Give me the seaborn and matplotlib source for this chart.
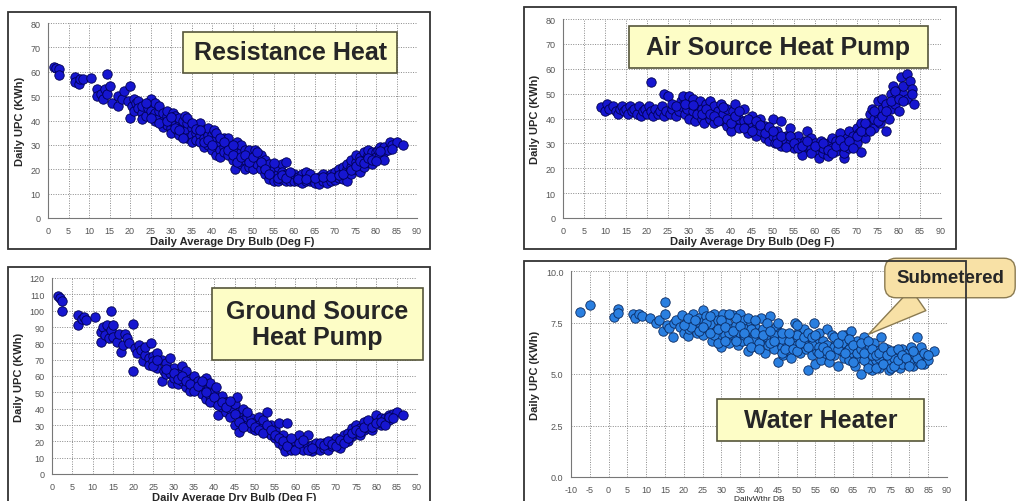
import matplotlib
matplotlib.use("Agg")
import matplotlib.pyplot as plt
import matplotlib.patches as patches
from matplotlib.ticker import MultipleLocator
import seaborn as sns
import pandas as pd

# Данные (оценка по картинке): (температура, кВт*ч)
resist_pts = [
    (1.5, 62), (2, 61.5), (2.7, 61), (2.7, 58.5), (6.5, 58), (6.5, 56), (7.5, 55), (7.8, 57), (8.5, 57),
    (10.5, 57.5), (12, 53), (12, 50), (13, 51), (13.5, 49), (14, 53), (14.5, 59), (14.5, 51), (15, 54),
    (15.5, 47), (17, 50), (17, 46), (18, 49), (18.5, 52), (19.5, 48), (20, 54), (20, 41), (20.5, 46),
    (21, 44), (21, 49), (21.5, 47), (22, 48), (22, 45), (23, 43), (23, 46), (23, 40.5), (24, 42), (24.5, 45),
    (25, 49), (25, 44), (25.5, 42), (26, 47), (26, 43), (26, 40), (27, 41), (27, 44), (27, 46), (28, 40),
    (28, 43), (28, 37.5), (29, 38), (29, 42), (29, 44), (30, 37), (30, 40), (30, 35), (30.5, 43), (31, 39),
    (31, 42), (31.5, 36), (32, 38), (32, 41), (32, 34), (33, 35), (33, 38), (33, 40), (33.5, 42), (34, 36),
    (34, 33), (34, 39), (35, 37), (35, 34), (35, 31), (36, 35), (36, 32), (36, 38), (37, 39), (37, 34),
    (37, 31), (38, 33), (38, 36), (38, 29), (39, 30), (39, 34), (39, 37), (40, 32), (40, 28), (40, 34),
    (40.5, 36), (41, 30), (41, 26), (41, 33), (42, 31), (42, 28), (42, 25), (43, 29), (43, 33), (43, 27),
    (44, 26), (44, 30), (44, 33), (45, 28), (45, 24), (45.5, 20), (46, 31), (46, 25), (46, 28), (47, 27),
    (47, 22), (47, 30), (48, 24), (48, 28), (48, 20), (49, 21), (49, 25), (49, 28), (50, 23), (50, 20),
    (50.5, 28), (51, 22), (51, 25), (52, 20), (52, 26), (53, 21), (53, 18), (53, 24), (54, 19), (54, 16),
    (54, 22), (55, 20), (55, 17), (55, 15), (56, 18), (56, 15), (56, 21), (57, 16), (57, 22), (57, 19),
    (58, 23), (58, 18), (58, 15), (59, 17), (59, 15), (60, 16), (60, 15), (60, 18), (61, 17), (61, 15),
    (62, 16), (62, 18), (62, 14.5), (63, 15), (63, 17), (63, 19), (64, 15), (64, 16), (64, 18), (65, 15),
    (65, 14.5), (66, 15), (66, 17), (66, 14), (67, 16), (67, 15), (67, 18), (68, 17), (68, 16), (68, 14.5),
    (69, 16), (69, 18), (69, 15), (70, 17), (70, 19), (70, 15.5), (71, 18), (71, 20), (71, 16.5), (72, 19),
    (72, 16), (72, 21), (73, 20), (73, 22), (73, 18), (73, 15), (74, 21), (74, 24), (74, 18), (75, 20),
    (75, 23), (75, 26), (76, 22), (76, 25), (76, 19), (77, 24), (77, 27), (77, 21), (78, 23), (78, 26),
    (78, 28), (79, 25), (79, 27), (79, 22), (80, 27), (80, 25), (80.5, 28), (81, 26), (81, 29), (82, 27),
    (82, 29), (82, 24), (83, 28), (83.5, 31), (84, 30), (85, 31), (86.5, 30),
    (24, 47), (25, 41), (27, 39), (29, 40), (30, 41.5), (31, 37), (32, 36), (33, 33), (34, 41), (35, 39),
    (36, 36.5), (37, 36), (38, 31), (39, 32), (40, 30), (41, 35), (42, 33), (43, 31), (44, 28), (45, 26),
    (45, 30), (46, 23), (47, 25), (48, 26), (49, 23), (50, 25), (51, 27), (52, 23), (53, 20), (54, 18),
    (55, 22.5), (56, 16.5), (57, 17.5), (58, 16.5), (59, 19), (61, 16), (63, 16), (65, 16.5), (67, 17),
    (69, 17), (71, 17.5), (72, 18), (74, 19.5), (75, 21.5), (76, 23.5), (77, 22.5), (78, 24.5), (79, 24),
    (80, 23.5), (81, 27.5), (84, 28.5),
]

ashp_pts = [
    (9, 44.5), (10, 43), (10.5, 46), (11, 44), (12, 45), (12.5, 43), (13, 42), (13.5, 44), (14, 45),
    (14.5, 43), (15, 44), (15.5, 42), (16, 45), (16.5, 43), (17, 44), (17.5, 42), (18, 45), (18.5, 41),
    (19, 43), (19.5, 44), (20, 42), (20.5, 45), (21, 54.5), (21, 43), (21.5, 41), (22, 44), (22.5, 42),
    (23, 43), (23.5, 45), (24, 50), (24, 41), (24.5, 43), (25, 49), (25.5, 42), (26, 44), (26, 46), (27, 41),
    (27.5, 43), (28, 47), (28, 45), (28.5, 49), (29, 42), (29.5, 44), (30, 49), (30, 40), (30.5, 46),
    (31, 43), (31, 48), (31.5, 39), (32, 45), (32, 42), (32.5, 47), (33, 40), (33, 44), (33.5, 38), (34, 46),
    (34, 42), (35, 47), (35, 40), (35.5, 44), (36, 38), (36, 45), (37, 41), (37, 43), (37.5, 46), (38, 39),
    (38, 42), (39, 44), (39, 37), (40, 40), (40, 35), (40.5, 43), (41, 46), (41, 38), (42, 36), (42, 40),
    (43, 44), (43, 39), (44, 37), (44, 34), (45, 38), (45, 41), (46, 36), (46, 33), (47, 40), (47, 35),
    (48, 37), (48, 32), (49, 34), (49, 31), (50, 40), (50, 33), (50.5, 30), (51, 35), (51, 32), (52, 39),
    (52, 29), (53, 33), (53, 31), (54, 36), (54, 30), (55, 32), (55, 28), (56, 33), (56, 30), (57, 27),
    (57, 25.5), (57.5, 31), (58, 35), (58, 29), (59, 28), (59, 32), (60, 27), (60, 30), (61, 24), (61, 29),
    (61.5, 31), (62, 26), (62, 28), (63, 25), (63, 30), (64, 28), (64, 32), (65, 27), (65, 31), (66, 29),
    (66, 34), (67, 24), (67, 26), (67.5, 32), (68, 28), (68, 35), (69, 31), (69, 33), (70, 30), (70, 36),
    (70.5, 34), (71, 26.5), (71, 38), (72, 32), (72, 35), (73, 38), (73, 42), (73.5, 44), (74, 36), (74, 40),
    (75, 42), (75, 47), (75.5, 38), (76, 44), (76, 48), (77, 35), (77, 46), (77.5, 40), (78, 50), (78, 44),
    (78.5, 53), (79, 48), (79, 46), (80, 51), (80, 43), (80.5, 56.5), (81, 50), (81, 53), (82, 58), (82, 48),
    (82.5, 55), (83, 52), (83, 50), (83.5, 46),
    (27, 45), (29, 46), (31, 45.5), (33, 42), (34, 44), (35, 42), (36, 41), (37, 39), (38, 44.5), (39, 40),
    (40, 38), (41, 41), (42, 43), (43, 36), (44, 40), (45, 35), (46, 39), (47, 37.5), (48, 34), (49, 36.5),
    (50, 35), (51, 30), (52, 33), (53, 28.5), (54, 33), (55, 30), (56, 28), (57, 29), (58, 31), (59, 26),
    (60, 29), (62, 30), (63, 27.5), (64, 26), (65, 29), (66, 31.5), (67, 29), (68, 31), (69, 28), (70, 33),
    (71, 35), (72, 38), (73, 35), (74, 43), (75, 39), (76, 41), (77, 43), (78, 47), (79, 51), (80, 48),
    (81, 47),
]

gshp_pts = [
    (1.5, 109), (2, 108), (2.5, 106), (2.5, 99.5), (6.5, 91.5), (6.5, 97.5), (7.5, 95), (8, 96), (8.5, 94.5),
    (10.5, 96), (12, 81), (12, 87), (12.5, 90), (13, 85), (13.5, 91), (14, 83), (14.5, 88), (14.5, 100),
    (15, 84), (15, 91), (16, 81), (16.5, 86), (17, 75), (17.5, 79), (18, 86), (18.5, 83), (19, 80), (20, 92),
    (20, 63), (20.5, 77), (21, 74), (21.5, 79), (22, 76), (22.5, 69), (23, 73), (23, 78), (24, 71), (24, 67),
    (24.5, 80.5), (25, 72), (25, 69), (26, 74), (26, 65), (27, 70), (27, 57), (27.5, 63), (28, 68), (28, 61),
    (29, 71), (29, 62), (29.5, 56), (30, 65), (30, 59), (31, 61), (31, 55), (32, 66), (32, 57), (33, 63),
    (33, 53), (34, 58), (34, 51), (35, 60), (35, 55), (36, 52), (36, 57), (37, 49), (37, 54), (38, 59),
    (38, 46), (38.5, 52), (39, 48), (39, 56), (40, 44), (40, 50), (40.5, 53), (41, 36), (41, 46), (42, 41),
    (42, 48), (43, 44), (43, 38), (44, 40), (44, 35), (45, 43), (45, 30), (45.5, 47), (46, 26), (46, 38),
    (47, 33), (47, 40), (48, 30), (48, 35), (49, 34), (49, 28), (50, 32), (50, 27), (51, 35), (51, 30),
    (52, 29), (52, 33), (53, 26), (53, 38), (54, 24), (54, 30), (55, 22), (55, 27), (56, 19), (56, 31),
    (57, 17), (57, 24), (57.5, 14), (58, 20), (58, 31), (59, 18), (59, 15), (60, 17), (60, 20), (61, 16),
    (61, 24), (62, 18), (62, 15), (63, 24), (63, 17), (64, 14), (64, 18), (65, 16), (65, 19), (66, 17),
    (66, 15), (67, 19), (67, 16), (68, 18), (68, 15), (69, 20), (69, 17), (70, 19), (70, 22), (71, 18),
    (71, 16), (72, 22), (72, 24), (73, 20), (73, 25), (74, 23), (74, 28), (75, 25), (75, 30), (76, 24),
    (76, 28), (77, 27), (77, 32), (78, 28), (78, 30), (79, 31), (79, 27), (80, 33), (80, 36), (81, 30),
    (81, 34), (82, 34), (82, 32), (83, 36), (83, 33), (84, 37), (85, 38), (86.5, 36),
    (25, 66), (26, 70), (28, 64), (30, 62), (31, 58), (32, 60), (33, 57), (34, 55), (35, 51), (36, 54),
    (37, 57), (38, 50), (39, 44), (40, 47), (41, 42), (42, 44), (43, 41), (44, 45), (45, 37), (46, 32),
    (47, 29), (48, 38), (49, 31), (50, 29), (51, 27), (52, 25), (53, 30), (54, 27), (55, 24), (56, 22),
    (57, 20), (58, 17), (59, 22), (60, 15), (61, 19), (62, 21), (63, 15), (64, 16), (66, 19), (67, 17.5),
    (68, 20), (69, 18.5), (70, 17), (71, 21), (72, 19), (73, 22), (74, 25), (75, 27), (76, 26), (77, 29),
    (78, 33), (79, 29), (80, 31), (81, 32), (82, 30), (83, 35), (84, 34),
]

water_pts = [
    (-7.5, 8.0), (-5, 8.35), (1.5, 7.75), (2.5, 8.15), (2.5, 7.95), (6.5, 7.9), (7, 7.7), (8, 7.9), (9, 7.8),
    (11, 7.7), (12.5, 7.5), (13.5, 7.6), (14.5, 7.1), (15, 8.5), (15, 7.9), (15.5, 7.4), (16, 7.25), (17, 6.8),
    (17.5, 7.5), (18, 7.6), (19, 7.3), (19.5, 7.85), (20, 7.0), (20.5, 7.5), (21, 6.85), (21.5, 7.2),
    (22, 7.6), (22.5, 7.9), (23, 7.3), (23.5, 7.0), (24, 7.7), (24.5, 7.4), (25, 8.1), (25, 6.9), (25.5, 7.55),
    (26, 7.8), (26.5, 7.2), (27, 7.45), (27.5, 6.6), (28, 7.9), (28.5, 7.1), (29, 7.6), (29.5, 6.8),
    (30, 7.35), (30, 6.3), (30.5, 7.9), (31, 6.9), (31.5, 7.5), (32, 6.5), (32.5, 7.2), (33, 7.85),
    (33.5, 6.8), (34, 7.4), (34.5, 6.4), (35, 7.9), (35, 7.0), (35.5, 6.6), (36, 7.6), (36.5, 7.2), (37, 6.1),
    (37.5, 7.0), (38, 7.5), (38.5, 6.7), (39, 7.3), (39.5, 6.3), (40, 7.0), (40.5, 7.7), (41, 6.6), (41.5, 6.0),
    (42, 7.1), (42.5, 6.4), (43, 7.8), (43.5, 6.8), (44, 6.2), (44.5, 7.3), (45, 5.6), (45, 6.6), (45.5, 7.0),
    (46, 6.3), (46.5, 5.9), (47, 6.9), (47.5, 6.5), (48, 6.1), (48.5, 5.8), (49, 6.8), (49.5, 7.5), (50, 6.4),
    (50.5, 7.0), (51, 6.0), (51.5, 6.7), (52, 7.2), (52.5, 6.2), (53, 5.2), (53.5, 6.8), (54, 5.9), (54.5, 7.5),
    (55, 6.5), (55, 5.5), (55.5, 6.1), (56, 7.0), (56.5, 5.7), (57, 6.6), (57.5, 6.0), (58, 7.2), (58.5, 5.6),
    (59, 6.3), (59.5, 6.9), (60, 5.9), (60.5, 6.5), (61, 5.4), (61.5, 6.7), (62, 6.1), (62.5, 5.8), (63, 6.9),
    (63.5, 6.4), (64, 5.7), (64.5, 7.1), (65, 6.0), (65.5, 5.4), (66, 6.6), (66.5, 6.2), (67, 5.0), (67.5, 5.8),
    (68, 6.8), (68.5, 6.3), (69, 5.5), (69.5, 6.0), (70, 5.2), (70.5, 6.5), (71, 5.7), (71.5, 6.1), (72, 5.3),
    (72.5, 6.8), (73, 5.9), (73.5, 5.5), (74, 6.2), (74.5, 5.2), (75, 5.8), (75.5, 5.4), (76, 6.1), (76.5, 5.6),
    (77, 5.9), (77.5, 5.3), (78, 6.2), (78.5, 5.7), (79, 5.5), (79.5, 6.0), (80, 5.8), (80.5, 6.3), (81, 5.4),
    (81.5, 5.9), (82, 6.8), (82.5, 5.6), (83, 6.3), (83.5, 5.8), (84, 5.5), (84.5, 5.9), (85, 5.7), (86.5, 6.1),
    (22, 7.3), (24, 7.1), (26, 7.5), (28, 6.9), (30, 7.6), (32, 7.0), (34, 7.7), (36, 6.9), (38, 7.2),
    (40, 6.5), (42, 6.8), (44, 6.9), (46, 6.7), (48, 6.6), (50, 6.9), (52, 6.5), (54, 6.4), (56, 6.3),
    (58, 6.4), (60, 6.3), (62, 6.5), (64, 6.2), (66, 5.8), (68, 5.7), (70, 5.9), (72, 5.8), (74, 5.6),
    (76, 5.8), (78, 5.5), (80, 5.6), (82, 5.8),
    (20, 7.4), (21, 7.7), (23, 7.6), (25, 7.3), (27, 7.8), (27, 7.0), (29, 7.2), (29, 6.5), (31, 7.3),
    (31, 6.6), (32, 7.9), (33, 7.1), (34, 6.6), (35, 7.35), (36, 7.0), (37, 7.7), (37, 6.6), (38, 6.3),
    (39, 7.0), (39, 7.6), (40, 6.2), (41, 7.2), (41, 6.9), (42, 7.5), (43, 6.5), (43, 7.1), (44, 6.6),
    (45, 7.5), (46, 6.0), (46, 7.0), (47, 6.2), (48, 7.0), (49, 6.2), (50, 7.4), (50, 6.1), (51, 6.5),
    (52, 6.8), (53, 6.3), (53, 7.0), (54, 6.8), (55, 6.9), (56, 6.0), (57, 6.3), (58, 6.1), (59, 5.9),
    (60, 6.8), (61, 6.2), (61, 6.5), (62, 6.9), (63, 6.0), (64, 6.7), (65, 6.4), (65, 5.6), (66, 6.0),
    (67, 6.2), (67, 6.5), (68, 6.0), (69, 6.6), (69, 5.3), (70, 6.2), (71, 5.9), (71, 5.3), (72, 6.0),
    (73, 6.3), (73, 5.5), (74, 5.9), (75, 6.1), (75, 5.3), (76, 5.4), (77, 5.7), (77, 6.2), (78, 5.9),
    (79, 5.8), (80, 5.4), (81, 6.1), (83, 5.5), (84, 6.0), (85, 5.9),
]

xlabel = "Daily Average Dry Bulb (Deg F)"
ylabel = "Daily UPC (KWh)"

sns.set_style("white")
plt.rcParams['font.family'] = ['Liberation Sans', 'DejaVu Sans']
plt.rcParams['axes.unicode_minus'] = False

W, H = 1029, 502
fig = plt.figure(figsize=(W / 100, H / 100), dpi=100)


def px_axes(l, t, r, b):
    return fig.add_axes([l / W, 1 - b / H, (r - l) / W, (b - t) / H])


def px_rect(l, t, r, b, **kw):
    fig.patches.append(patches.Rectangle((l / W, 1 - b / H), (r - l) / W, (b - t) / H,
                                         transform=fig.transFigure, **kw))


# рамки панелей
for l, t, r, b in [(8, 13, 430, 250), (524, 8, 956, 250), (8, 268, 430, 520), (524, 262, 966, 520)]:
    px_rect(l, t, r, b, fill=False, ec="#333333", lw=1.3, zorder=0)

panels = [
    (px_axes(48, 24, 417, 219), resist_pts, (0, 90), range(0, 91, 5), (0, 80), range(0, 81, 10), "#1616d0", "#000050"),
    (px_axes(563, 20, 941, 219), ashp_pts, (0, 90), range(0, 91, 5), (0, 80), range(0, 81, 10), "#1616d0", "#000050"),
    (px_axes(52, 279, 417, 475), gshp_pts, (0, 90), range(0, 91, 5), (0, 120), range(0, 121, 10), "#1616d0", "#000050"),
    (px_axes(571, 272, 947, 478), water_pts, (-10, 90), range(-10, 91, 5), (0, 10), [0, 2.5, 5, 7.5, 10], "#2a7fe0", "#0a2a60"),
]

for ax, pts, xlim, xt, ylim, yt, fc, ec in panels:
    df = pd.DataFrame(pts, columns=["temp", "kwh"])
    sns.scatterplot(data=df, x="temp", y="kwh", ax=ax, s=46, color=fc,
                    edgecolor=ec, linewidth=0.6, zorder=3)
    ax.set_xlim(*xlim)
    ax.set_ylim(*ylim)
    ax.set_xticks(list(xt))
    ax.set_yticks(list(yt))
    ax.grid(True, color="#888888", linestyle=(0, (1, 1.5)), linewidth=0.7)
    ax.tick_params(labelsize=6.5, colors="#555555", length=2, width=0.6)
    for s in ["top", "right"]:
        ax.spines[s].set_visible(False)
    for s in ["left", "bottom"]:
        ax.spines[s].set_color("#777777")
        ax.spines[s].set_linewidth(0.8)
    ax.set_ylabel(ylabel, fontsize=8, fontweight="bold", labelpad=4)
    ax.set_xlabel(xlabel, fontsize=8, fontweight="bold", labelpad=1)

ax4 = panels[3][0]
ax4.set_yticklabels(["0.0", "2.5", "5.0", "7.5", "10.0"])
ax4.yaxis.set_minor_locator(MultipleLocator(1.25))
ax4.tick_params(axis="y", which="minor", length=2, width=0.6, colors="#555555")
ax4.set_xlabel("DailyWthr DB", fontsize=6, fontweight="normal", labelpad=1)

# жёлтые подписи
labels = [
    ((183, 33, 397, 74), "Resistance Heat"),
    ((629, 27, 928, 69), "Air Source Heat Pump"),
    ((212, 289, 423, 361), "Ground Source\nHeat Pump"),
    ((717, 400, 924, 442), "Water Heater"),
]
for (l, t, r, b), txt in labels:
    px_rect(l, t, r, b, fc="#fdfdc6", ec="#55553a", lw=1.2, zorder=5)
    fig.text((l + r) / 2 / W, 1 - (t + b) / 2 / H, txt, fontsize=18, fontweight="bold",
             ha="center", va="center", linespacing=1.12, zorder=6)

ax4.annotate("Submetered", xy=(68.5, 6.85), xycoords="data",
             xytext=(950 / W, 1 - 279 / H), textcoords="figure fraction",
             fontsize=13.5, fontweight="bold", ha="center", va="center",
             bbox=dict(boxstyle="round,pad=0.6", fc="#f8e1a6", ec="#8a7a50", lw=1),
             arrowprops=dict(arrowstyle="wedge,tail_width=1.4", fc="#f8e1a6", ec="#8a7a50", lw=1),
             annotation_clip=False, zorder=10)

fig.savefig("out.png", dpi=100)
